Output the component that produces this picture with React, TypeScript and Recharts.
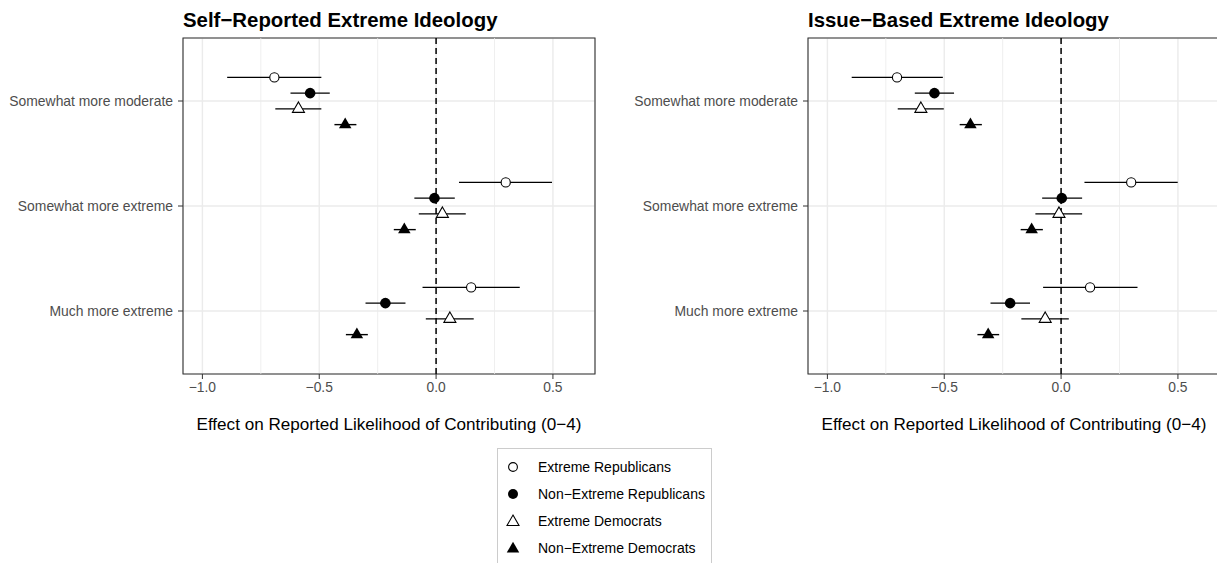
import React from "react";
import {
  ScatterChart,
  Scatter,
  XAxis,
  YAxis,
  CartesianGrid,
  ErrorBar,
  ReferenceLine,
  ReferenceArea,
} from "recharts";

const FONT = "'Liberation Sans', Arial, Helvetica, sans-serif";
const MINUS = "\u2212";

const CATEGORIES = ["Somewhat more moderate", "Somewhat more extreme", "Much more extreme"];
const CAT_POS = [3, 2, 1];
const SERIES = [
  "Extreme Republicans",
  "Non\u2212Extreme Republicans",
  "Extreme Democrats",
  "Non\u2212Extreme Democrats",
];
// vertical dodge of each group within a category
const DODGE = [0.225, 0.075, -0.075, -0.225];

const X_TICKS = [-1, -0.5, 0, 0.5];
const X_MINOR = [-0.75, -0.25, 0.25];
const X_DOMAIN: [number, number] = [-1.083, 0.68];
const Y_DOMAIN: [number, number] = [0.4, 3.6];

// Self-reported panel: estimate, lower, upper (per category)
const selfExtRepEst = [-0.692, 0.298, 0.15];
const selfExtRepLo = [-0.894, 0.098, -0.058];
const selfExtRepHi = [-0.491, 0.496, 0.358];
const selfNonExtRepEst = [-0.539, -0.007, -0.217];
const selfNonExtRepLo = [-0.623, -0.093, -0.302];
const selfNonExtRepHi = [-0.455, 0.08, -0.131];
const selfExtDemEst = [-0.589, 0.027, 0.059];
const selfExtDemLo = [-0.688, -0.074, -0.044];
const selfExtDemHi = [-0.491, 0.127, 0.161];
const selfNonExtDemEst = [-0.389, -0.136, -0.339];
const selfNonExtDemLo = [-0.435, -0.181, -0.386];
const selfNonExtDemHi = [-0.341, -0.087, -0.292];

// Issue-based panel
const issueExtRepEst = [-0.702, 0.3, 0.124];
const issueExtRepLo = [-0.896, 0.1, -0.077];
const issueExtRepHi = [-0.506, 0.499, 0.327];
const issueNonExtRepEst = [-0.542, 0.003, -0.218];
const issueNonExtRepLo = [-0.626, -0.081, -0.302];
const issueNonExtRepHi = [-0.458, 0.09, -0.133];
const issueExtDemEst = [-0.6, -0.009, -0.068];
const issueExtDemLo = [-0.699, -0.11, -0.17];
const issueExtDemHi = [-0.502, 0.09, 0.033];
const issueNonExtDemEst = [-0.388, -0.126, -0.312];
const issueNonExtDemLo = [-0.434, -0.173, -0.358];
const issueNonExtDemHi = [-0.339, -0.078, -0.265];

function build(est: number[], lo: number[], hi: number[], s: number) {
  return CAT_POS.map((pos, i) => ({
    category: CATEGORIES[i],
    x: est[i],
    y: pos + DODGE[s],
    err: [est[i] - lo[i], hi[i] - est[i]],
  }));
}

const selfData = [
  build(selfExtRepEst, selfExtRepLo, selfExtRepHi, 0),
  build(selfNonExtRepEst, selfNonExtRepLo, selfNonExtRepHi, 1),
  build(selfExtDemEst, selfExtDemLo, selfExtDemHi, 2),
  build(selfNonExtDemEst, selfNonExtDemLo, selfNonExtDemHi, 3),
];
const issueData = [
  build(issueExtRepEst, issueExtRepLo, issueExtRepHi, 0),
  build(issueNonExtRepEst, issueNonExtRepLo, issueNonExtRepHi, 1),
  build(issueExtDemEst, issueExtDemLo, issueExtDemHi, 2),
  build(issueNonExtDemEst, issueNonExtDemLo, issueNonExtDemHi, 3),
];

function triPath(cx: number, cy: number, side: number) {
  const h = side * 0.866;
  return `M${cx},${cy - (2 * h) / 3}L${cx + side / 2},${cy + h / 3}L${cx - side / 2},${cy + h / 3}Z`;
}

const OpenCircle = (p: any) => (
  <circle cx={p.cx} cy={p.cy} r={4.6} fill="#fff" stroke="#000" strokeWidth={1.1} />
);
const FilledCircle = (p: any) => <circle cx={p.cx} cy={p.cy} r={5.3} fill="#000" />;
const OpenTriangle = (p: any) => (
  <path d={triPath(p.cx, p.cy, 12)} fill="#fff" stroke="#000" strokeWidth={1.1} />
);
const FilledTriangle = (p: any) => <path d={triPath(p.cx, p.cy, 12.5)} fill="#000" />;

const SHAPES = [OpenCircle, FilledCircle, OpenTriangle, FilledTriangle];

const fmtX = (v: number) => (v < 0 ? MINUS + Math.abs(v).toFixed(1) : v.toFixed(1));
const fmtY = (v: number) => CATEGORIES[CAT_POS.indexOf(v)] ?? "";

function Panel({ data, left }: { data: any[][]; left: number }) {
  return (
    <div style={{ position: "absolute", left, top: 0 }}>
      <ScatterChart width={600} height={400} margin={{ top: 38, right: 5, bottom: 0, left: 0 }}>
        <CartesianGrid stroke="#ebebeb" strokeWidth={1.4} />
        {X_MINOR.map((m) => (
          <ReferenceLine key={m} x={m} stroke="#ebebeb" strokeWidth={0.8} />
        ))}
        <XAxis
          type="number"
          dataKey="x"
          domain={X_DOMAIN}
          allowDataOverflow
          ticks={X_TICKS}
          tickFormatter={fmtX}
          axisLine={false}
          tickLine={{ stroke: "#333" }}
          tickSize={5}
          tickMargin={3}
          height={26}
          tick={{ fill: "#4d4d4d", fontSize: 13.8, fontFamily: FONT }}
        />
        <YAxis
          type="number"
          dataKey="y"
          domain={Y_DOMAIN}
          allowDataOverflow
          ticks={CAT_POS}
          tickFormatter={fmtY}
          axisLine={false}
          tickLine={{ stroke: "#333" }}
          tickSize={5}
          tickMargin={5}
          width={183}
          tick={{ fill: "#4d4d4d", fontSize: 13.9, fontFamily: FONT }}
        />
        <ReferenceLine x={0} stroke="#000" strokeWidth={1.5} strokeDasharray="6 4" />
        <ReferenceArea
          x1={X_DOMAIN[0]}
          x2={X_DOMAIN[1]}
          y1={Y_DOMAIN[0]}
          y2={Y_DOMAIN[1]}
          fill="none"
          fillOpacity={0}
          stroke="#333"
          strokeWidth={1.1}
        />
        {data.map((d, s) => (
          <Scatter key={s} name={SERIES[s]} data={d} shape={SHAPES[s]} isAnimationActive={false}>
            <ErrorBar dataKey="err" direction="x" width={0} stroke="#000" strokeWidth={1.4} />
          </Scatter>
        ))}
      </ScatterChart>
    </div>
  );
}

function LegendSymbol({ s }: { s: number }) {
  const c = 8;
  return (
    <svg width={16} height={16} style={{ position: "absolute", left: 0, top: 0 }}>
      {s === 0 && <circle cx={c} cy={c} r={4.4} fill="#fff" stroke="#000" strokeWidth={1.1} />}
      {s === 1 && <circle cx={c} cy={c} r={5} fill="#000" />}
      {s === 2 && <path d={triPath(c, c + 1, 12)} fill="#fff" stroke="#000" strokeWidth={1.1} />}
      {s === 3 && <path d={triPath(c, c + 1, 12.5)} fill="#000" />}
    </svg>
  );
}

const titleStyle: React.CSSProperties = {
  position: "absolute",
  top: 9.7,
  fontSize: 20.4,
  lineHeight: "20.4px",
  fontWeight: "bold",
  color: "#000",
  whiteSpace: "nowrap",
};

const axisTitleStyle: React.CSSProperties = {
  position: "absolute",
  top: 415.5,
  width: 600,
  textAlign: "center",
  fontSize: 17.1,
  lineHeight: "17.1px",
  color: "#000",
  whiteSpace: "nowrap",
};

export default function App() {
  return (
    <div
      style={{
        position: "fixed",
        left: 0,
        top: 0,
        width: 1217,
        height: 563,
        overflow: "hidden",
        background: "#fff",
        fontFamily: FONT,
      }}
    >
      <div style={{ ...titleStyle, left: 183 }}>Self{MINUS}Reported Extreme Ideology</div>
      <div style={{ ...titleStyle, left: 808 }}>Issue{MINUS}Based Extreme Ideology</div>
      <Panel data={selfData} left={0} />
      <Panel data={issueData} left={625} />
      <div style={{ ...axisTitleStyle, left: 389 - 300 }}>
        Effect on Reported Likelihood of Contributing (0{MINUS}4)
      </div>
      <div style={{ ...axisTitleStyle, left: 1014 - 300 }}>
        Effect on Reported Likelihood of Contributing (0{MINUS}4)
      </div>
      <div
        style={{
          position: "absolute",
          left: 497,
          top: 448,
          width: 213,
          height: 140,
          border: "1px solid #cccccc",
          background: "#fff",
        }}
      />
      {SERIES.map((name, s) => {
        const cy = 467 + 27 * s;
        return (
          <div key={name}>
            <div style={{ position: "absolute", left: 505, top: cy - 8, width: 16, height: 16 }}>
              <LegendSymbol s={s} />
            </div>
            <div
              style={{
                position: "absolute",
                left: 538,
                top: cy - 7,
                fontSize: 14,
                lineHeight: "14px",
                color: "#000",
                whiteSpace: "nowrap",
              }}
            >
              {name}
            </div>
          </div>
        );
      })}
    </div>
  );
}
